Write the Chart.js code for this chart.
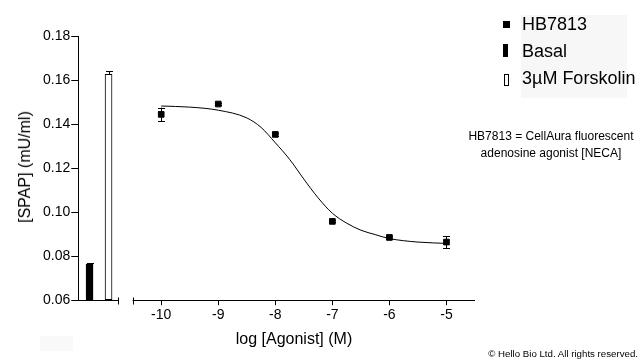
<!DOCTYPE html>
<html>
<head>
<meta charset="utf-8">
<script src="https://cdn.jsdelivr.net/npm/chart.js@4.4.1/dist/chart.umd.min.js"></script>
<style>
  body { margin: 0; background: #fff; }
  #wrap { position: relative; width: 644px; height: 364px; font-family: Arial, "Liberation Sans", sans-serif; color: #000; }
  #grafico { position: absolute; left: 0; top: 0; }
  .txt { position: absolute; white-space: nowrap; }
  #legendBox { position: absolute; left: 521px; top: 15px; width: 106px; height: 83px; background: #f7f7f7; }
  .mk { position: absolute; background: #000; }
  .lg { position: absolute; left: 522px; font-size: 18px; line-height: 20px; }
</style>
</head>
<body>
<div id="wrap">
  <div id="legendBox"></div>
  <div style="position:absolute;left:40px;top:336px;width:33px;height:15px;background:#f9f9f9;"></div>
  <canvas id="grafico" width="644" height="364"></canvas>

  <div class="mk" style="left:503px;top:21px;width:7px;height:7px;"></div>
  <div class="lg" style="top:14px;">HB7813</div>
  <div class="mk" style="left:503px;top:44px;width:5px;height:13px;"></div>
  <div class="lg" style="top:41px;">Basal</div>
  <div class="mk" style="left:504px;top:74px;width:3px;height:10px;background:#fff;border:1px solid #000;"></div>
  <div class="lg" style="top:68px;">3µM Forskolin</div>

  <div class="txt" style="left:551px;top:128px;transform:translateX(-50%);font-size:12px;line-height:17px;text-align:center;">HB7813 = CellAura fluorescent<br>adenosine agonist [NECA]</div>

  <div class="txt" style="left:294px;top:330px;transform:translateX(-50%);font-size:16px;line-height:18px;">log [Agonist] (M)</div>
  <div class="txt" style="left:25px;top:167px;transform:translate(-50%,-50%) rotate(-90deg);font-size:16px;line-height:18px;">[SPAP] (mU/ml)</div>

  <div class="txt" style="right:6px;top:348px;font-size:9.7px;line-height:12px;">© Hello Bio Ltd. All rights reserved.</div>
</div>

<script>
// log [Agonist] (M) and measured SPAP, HB7813
const logDosis = [-10, -9, -8, -7, -6, -5];
const spap = [0.1444, 0.1491, 0.1353, 0.0958, 0.0885, 0.0864];
const spapErr = [0.0031, 0.0005, 0.0005, 0.0005, 0.0005, 0.0027];

// fitted curve
const curvaX = [-10, -9.5, -9, -8.5, -8.25, -8, -7.75, -7.5, -7.25, -7, -6.75, -6.5, -6.25, -6, -5.5, -5];
const curvaY = [0.1482, 0.1477, 0.1463, 0.1428, 0.1385, 0.1315, 0.1240, 0.1150, 0.1065, 0.0995, 0.0950, 0.0918, 0.0898, 0.0880, 0.0864, 0.0858];

// controls
const barras = ["Basal", "3µM Forskolin"];
const barrasValor = [0.0764, 0.1626];
const barrasErr = [0.0007, 0.0016];

const ticksX = [-10, -9, -8, -7, -6, -5];
const ticksY = [0.06, 0.08, 0.10, 0.12, 0.14, 0.16, 0.18];

// layout of the broken x axis
const barrasPos = [-11.256, -10.923];
const finEjeBarras = -10.75;
const inicioEjeCurva = -10.5;
const xMin = -11.454, xMax = -4.5;

const fuente = "Arial, 'Liberation Sans', sans-serif";

const ejes = {
  id: "ejes",
  afterDraw(chart) {
    const ctx = chart.ctx;
    const x = chart.scales.x;
    const y0 = Math.round(chart.chartArea.bottom) + 0.5;
    const l = chart.chartArea.left;
    const a = x.getPixelForValue(finEjeBarras);
    const b = x.getPixelForValue(inicioEjeCurva);
    const r = chart.chartArea.right;
    ctx.save();
    ctx.strokeStyle = "#000";
    ctx.lineWidth = 1;
    ctx.beginPath();
    ctx.moveTo(l, y0); ctx.lineTo(a, y0);
    ctx.moveTo(b, y0); ctx.lineTo(r, y0);
    ctx.moveTo(Math.round(a) + 0.5, y0 - 3); ctx.lineTo(Math.round(a) + 0.5, y0 + 4);
    ctx.moveTo(Math.round(b) + 0.5, y0 - 3); ctx.lineTo(Math.round(b) + 0.5, y0 + 4);
    ctx.stroke();
    ctx.restore();
  }
};

const errores = {
  id: "errores",
  afterDatasetsDraw(chart) {
    const ctx = chart.ctx;
    const x = chart.scales.x, y = chart.scales.y;
    ctx.save();
    ctx.strokeStyle = "#000";
    ctx.lineWidth = 1;
    ctx.beginPath();
    logDosis.forEach((v, i) => {
      const px = Math.round(x.getPixelForValue(v)) + 0.5;
      const t = y.getPixelForValue(spap[i] + spapErr[i]);
      const bo = y.getPixelForValue(spap[i] - spapErr[i]);
      ctx.moveTo(px, t); ctx.lineTo(px, bo);
      ctx.moveTo(px - 3.5, Math.round(t) + 0.5); ctx.lineTo(px + 3.5, Math.round(t) + 0.5);
      ctx.moveTo(px - 3.5, Math.round(bo) + 0.5); ctx.lineTo(px + 3.5, Math.round(bo) + 0.5);
    });
    barrasPos.forEach((v, i) => {
      const px = Math.round(x.getPixelForValue(v)) + 0.5;
      const top = y.getPixelForValue(barrasValor[i]);
      const t = Math.round(y.getPixelForValue(barrasValor[i] + barrasErr[i])) + 0.5;
      ctx.moveTo(px, t); ctx.lineTo(px, top);
      ctx.moveTo(px - 3.5, t); ctx.lineTo(px + 3.5, t);
    });
    ctx.stroke();
    ctx.restore();
  }
};

const grafico = new Chart(document.getElementById("grafico").getContext("2d"), {
  data: {
    datasets: [
      {
        type: "line",
        label: "ajuste",
        data: curvaX.map((v, i) => ({ x: v, y: curvaY[i] })),
        borderColor: "#000",
        borderWidth: 1,
        pointRadius: 0,
        cubicInterpolationMode: "monotone",
        fill: false
      },
      {
        type: "line",
        label: "HB7813",
        data: logDosis.map((v, i) => ({ x: v, y: spap[i] })),
        showLine: false,
        pointStyle: "rect",
        pointRadius: 4,
        pointBackgroundColor: "#000",
        pointBorderColor: "#000",
        pointBorderWidth: 1
      },
      {
        type: "bar",
        label: "controles",
        data: barrasPos.map((v, i) => ({ x: v, y: barrasValor[i] })),
        base: 0.06,
        barThickness: 7,
        backgroundColor: ["#000", "#fff"],
        borderColor: "#000",
        borderWidth: 1,
        borderSkipped: false
      }
    ]
  },
  options: {
    responsive: false,
    animation: false,
    events: [],
    layout: { padding: { left: 42, top: 36, right: 169, bottom: 38 } },
    plugins: { legend: { display: false }, tooltip: { enabled: false } },
    scales: {
      x: {
        type: "linear",
        min: xMin,
        max: xMax,
        offset: false,
        afterBuildTicks: s => { s.ticks = ticksX.map(v => ({ value: v })); },
        ticks: { color: "#000", font: { family: fuente, size: 14 }, padding: 2, autoSkip: false, maxRotation: 0 },
        grid: { drawOnChartArea: false, color: "#000", tickLength: 5, offset: false },
        border: { display: false }
      },
      y: {
        min: 0.06,
        max: 0.18,
        afterBuildTicks: s => { s.ticks = ticksY.map(v => ({ value: v })); },
        ticks: { color: "#000", font: { family: fuente, size: 14 }, padding: 1, callback: v => v.toFixed(2) },
        grid: { drawOnChartArea: false, color: "#000", tickLength: 7 },
        border: { display: true, color: "#000", width: 1 }
      }
    }
  },
  plugins: [errores, ejes]
});
</script>
</body>
</html>
